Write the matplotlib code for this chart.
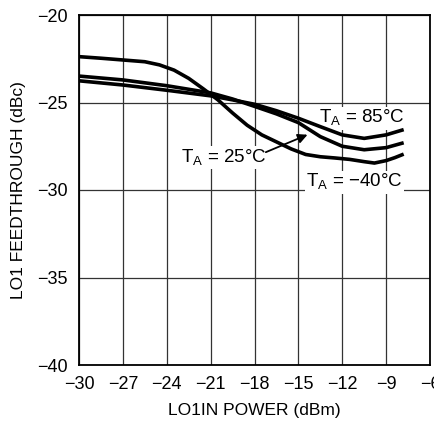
import matplotlib
matplotlib.use("Agg")
import matplotlib.pyplot as plt
from matplotlib import font_manager as fm

names = {f.name for f in fm.fontManager.ttflist}
FONT = "Liberation Sans Narrow" if "Liberation Sans Narrow" in names else "Liberation Sans"
plt.rcParams['font.family'] = [FONT, 'DejaVu Sans']

x_ticks = [-30, -27, -24, -21, -18, -15, -12, -9, -6]
y_ticks = [-40, -35, -30, -25, -20]

x_85 = [-30, -27, -24, -21, -19.5, -18, -16.5, -15, -13.5, -12, -10.5, -9, -7.8]
y_85 = [-23.76, -24.0, -24.3, -24.62, -24.85, -25.1, -25.47, -25.9, -26.38, -26.85, -27.05, -26.85, -26.55]

x_25 = [-30, -27, -24, -21, -19.5, -18, -16.5, -15, -13.5, -12, -10.5, -9, -7.8]
y_25 = [-23.49, -23.71, -24.04, -24.45, -24.8, -25.22, -25.65, -26.15, -26.95, -27.5, -27.7, -27.58, -27.3]

x_m40 = [-30, -28.5, -27, -25.5, -24.5, -23.5, -22.5, -21.5, -20.5, -19.5, -18.5, -17.5,
         -16.5, -15.5, -14.5, -13.5, -12.5, -11.5, -10.5, -9.8, -9, -8.4, -7.8]
y_m40 = [-22.38, -22.47, -22.57, -22.67, -22.85, -23.15, -23.62, -24.22, -24.85, -25.6, -26.3, -26.85,
         -27.25, -27.65, -27.97, -28.1, -28.17, -28.25, -28.38, -28.46, -28.32, -28.15, -27.95]

fig = plt.figure(figsize=(4.35, 4.24), dpi=100)
ax = fig.add_axes([79/435, 59/424, 351/435, 350/424])

for xs, ys in [(x_85, y_85), (x_25, y_25), (x_m40, y_m40)]:
    ax.plot(xs, ys, color='black', lw=2.6, solid_capstyle='butt', solid_joinstyle='round', zorder=3)

ax.set_xlim(-30, -6)
ax.set_ylim(-40, -20)
ax.set_xticks(x_ticks)
ax.set_yticks(y_ticks)
ax.set_xticklabels([str(t).replace('-', '\u2212') for t in x_ticks])
ax.set_yticklabels([str(t).replace('-', '\u2212') for t in y_ticks])
ax.tick_params(axis='x', length=0, labelsize=13, pad=8)
ax.tick_params(axis='y', length=0, labelsize=13, pad=8)
ax.grid(True, color='#333333', lw=0.9, zorder=1)
for s in ax.spines.values():
    s.set_linewidth(1.3)
    s.set_color('black')

ax.set_xlabel('LO1IN POWER (dBm)', fontsize=12.5, labelpad=7)
ax.set_ylabel('LO1 FEEDTHROUGH (dBc)', fontsize=12.5, labelpad=8)

bbox = dict(facecolor='white', edgecolor='none', pad=1.0)
ax.text(-10.7, -25.9, 'T$_\\mathregular{A}$ = 85°C', fontsize=13.5, ha='center', va='center', bbox=bbox, zorder=2)
ax.text(-11.15, -29.55, 'T$_\\mathregular{A}$ = \u221240°C', fontsize=13.5, ha='center', va='center', bbox=bbox, zorder=2)
ax.text(-20.1, -28.15, 'T$_\\mathregular{A}$ = 25°C', fontsize=13.5, ha='center', va='center', bbox=bbox, zorder=2)
ax.annotate('', xy=(-14.2, -26.78), xytext=(-17.4, -27.9),
            arrowprops=dict(arrowstyle='-|>', color='black', lw=1.3, mutation_scale=14), zorder=4)

fig.savefig('out.png', dpi=100)
